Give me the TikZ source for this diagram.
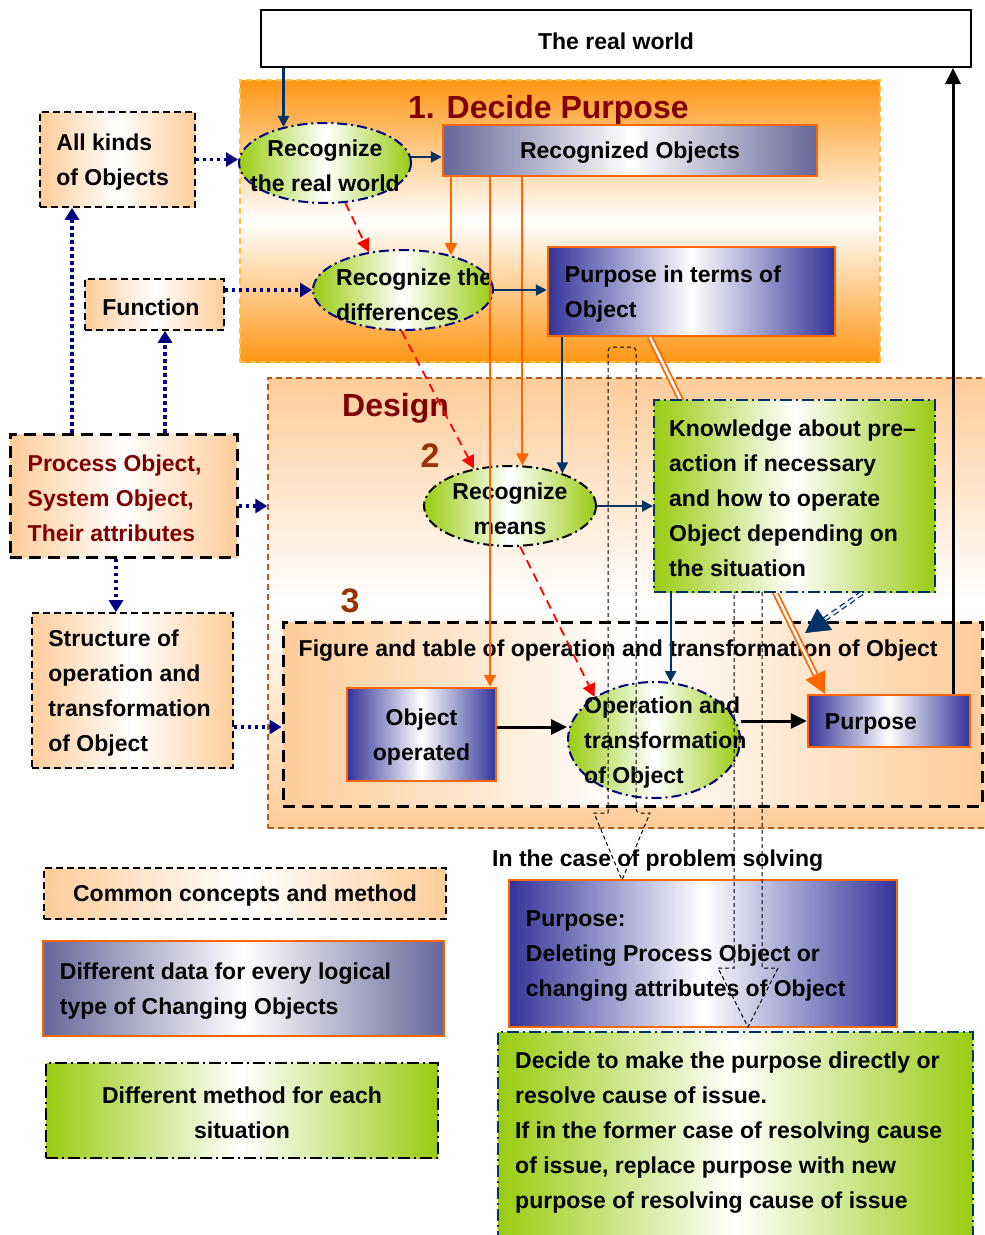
\documentclass[tikz,border=0pt]{standalone}
\usepackage{fontspec}
\setmainfont{Liberation Sans}
\usetikzlibrary{arrows.meta,calc,shapes.geometric}

\definecolor{peach}{RGB}{255,204,153}
\definecolor{deeporange}{RGB}{255,150,20}
\definecolor{lineorange}{RGB}{255,102,0}
\definecolor{slate}{RGB}{102,102,153}
\definecolor{navyfill}{RGB}{51,51,153}
\definecolor{leaf}{RGB}{153,204,17}
\definecolor{darkred}{RGB}{128,0,0}
\definecolor{rust}{RGB}{153,51,0}
\definecolor{navyline}{RGB}{0,51,102}
\definecolor{navydot}{RGB}{0,0,128}
\definecolor{brownborder}{RGB}{176,90,30}
\definecolor{goldborder}{RGB}{255,192,64}

\begin{document}
\begin{tikzpicture}[x=1pt,y=-1pt,
  txt/.style={font=\bfseries\fontsize{23}{35}\selectfont, inner sep=0pt, align=left, yshift=-2.5pt},
  ctxt/.style={txt, align=center},
  heading/.style={font=\bfseries\fontsize{32}{36}\selectfont, text=darkred, inner sep=0pt},
  stagenum/.style={font=\bfseries\fontsize{34}{36}\selectfont, text=rust, inner sep=0pt},
  rect/.style={rectangle, inner sep=0pt},
  region/.style={rect, line width=1.4pt, dash pattern=on 6pt off 4pt},
  commonbox/.style={rect, draw=black, line width=1.6pt, dash pattern=on 7pt off 4pt,
    left color=peach, right color=peach, middle color=white},
  commonheavy/.style={commonbox, line width=3pt, dash pattern=on 12pt off 7pt},
  databox/.style={rect, draw=lineorange, line width=2.5pt,
    left color=slate, right color=slate, middle color=white},
  objectbox/.style={rect, draw=lineorange, line width=2.5pt,
    left color=navyfill, right color=navyfill, middle color=white},
  methodbox/.style={rect, draw=navyline, line width=2pt, dash pattern=on 12pt off 4pt on 2pt off 4pt,
    left color=leaf, right color=leaf, middle color=white},
  methodoval/.style={ellipse, inner sep=0pt, draw=navydot, line width=2pt,
    dash pattern=on 10pt off 4pt on 2pt off 4pt,
    left color=leaf, right color=leaf, middle color=white,
    minimum width=172pt, minimum height=80pt},
  flow/.style={draw=navyline, line width=2pt, -{Triangle[length=11pt,width=11pt]}},
  feed/.style={draw=navydot, line width=3.5pt, dash pattern=on 3.5pt off 3.5pt,
    -{Triangle[length=12pt,width=14pt]}},
  cue/.style={draw=red, line width=1.8pt, dash pattern=on 9pt off 6pt,
    -{Triangle[length=13pt,width=13pt]}},
  supply/.style={draw=lineorange, line width=2pt, -{Triangle[length=12pt,width=12pt]}},
  result/.style={draw=black, line width=3pt, -{Triangle[length=16pt,width=15pt]}},
  callout/.style={draw=black, line width=1pt, dash pattern=on 4pt off 3pt}
]
\useasboundingbox (0,0) rectangle (985,1235);

% ---- stage regions ----
\node[region, draw=goldborder, top color=deeporange, bottom color=deeporange, middle color=white,
      minimum width=640pt, minimum height=282pt] (decide) at (560,221) {};
\node[region, draw=brownborder, top color=peach, bottom color=peach, middle color=white,
      minimum width=722pt, minimum height=450pt] (design) at (629,603) {};
\node[heading, anchor=west] (decide-title) at (408,110) {1. Decide Purpose};
\node[heading, anchor=west] (design-title) at (342,408) {Design};
\node[stagenum] (stage2) at (430,456) {2};
\node[stagenum] (stage3) at (350,601) {3};

% ---- the real world ----
\node[rect, draw=black, line width=2pt, fill=white, minimum width=710pt, minimum height=57pt]
      (world) at (616,38.5) {};
\node[txt] (world-t) at (world) {The real world};

% ---- common concepts on the left ----
\node[commonbox, minimum width=155pt, minimum height=95pt] (kinds) at (117.5,159.5) {};
\node[txt, anchor=west] (kinds-t) at ([xshift=17pt]kinds.west) {All kinds\\of Objects};
\node[commonbox, minimum width=139pt, minimum height=51pt] (func) at (154.5,304.5) {};
\node[txt, anchor=west] (func-t) at ([xshift=18pt]func.west) {Function};
\node[commonheavy, minimum width=227pt, minimum height=123pt] (proc) at (123.5,495.5) {};
\node[txt, text=darkred, anchor=west] (proc-t) at ([xshift=19pt]proc.west)
      {Process Object,\\System Object,\\Their attributes};
\node[commonbox, minimum width=201pt, minimum height=155pt] (struct) at (132.5,690.5) {};
\node[txt, anchor=west] (struct-t) at ([xshift=17pt]struct.west)
      {Structure of\\operation and\\transformation\\of Object};

% ---- figure and table group ----
\node[commonheavy, minimum width=699pt, minimum height=184pt] (figure) at (632.5,714) {};
\node[txt, anchor=west] (figure-t) at ([xshift=17pt,yshift=-28pt]figure.north west)
      {Figure and table of operation and transformation of Object};

% ---- purpose boxes ----
\node[objectbox, minimum width=287pt, minimum height=89pt] (pterms) at (691.5,291.5) {};
\node[txt, anchor=west] (pterms-t) at ([xshift=18pt]pterms.west) {Purpose in terms of\\Object};
\node[objectbox, minimum width=162pt, minimum height=52pt] (purpose) at (889,721) {};
\node[txt, anchor=west] (purpose-t) at ([xshift=18pt]purpose.west) {Purpose};

% double orange link running behind the knowledge box
\coordinate (x-650) at (650,0);
\coordinate (pterms-out) at (pterms.south -| x-650);
\coordinate (purpose-in) at ([xshift=18pt]purpose.north west);
\draw[lineorange, line width=1.8pt, double=white, double distance=2.6pt]
      (pterms-out) -- ($(purpose-in)!18pt!(pterms-out)$);
\draw[lineorange, line width=1pt, -{Triangle[length=21pt,width=22pt]}]
      ($(purpose-in)!22pt!(pterms-out)$) -- (purpose-in);

% ---- method nodes ----
\node[methodbox, minimum width=281pt, minimum height=192pt] (know) at (794.5,496) {};
\node[txt, anchor=west] (know-t) at ([xshift=16pt]know.west)
      {Knowledge about pre--\\action if necessary\\and how to operate\\Object depending on\\the situation};

\node[methodoval] (seeworld) at (325,163) {};
\node[ctxt] (seeworld-t) at (seeworld) {Recognize\\the real world};
\node[databox, minimum width=374pt, minimum height=51pt] (objs) at (630,150.5) {};
\node[txt] (objs-t) at (objs) {Recognized Objects};
\node[methodoval, minimum width=180pt] (diff) at (403,290) {};
\node[txt, anchor=west] (diff-t) at (336,292) {Recognize the\\differences};
\node[methodoval, draw=black] (means) at (510,506) {};
\node[ctxt] (means-t) at (means) {Recognize\\means};
\node[objectbox, minimum width=149pt, minimum height=93pt] (operated) at (421.5,734.5) {};
\node[ctxt] (operated-t) at (operated) {Object\\operated};
\node[methodoval, minimum height=116pt] (transform) at (654,740) {};
\node[txt, anchor=west] (transform-t) at (584,740) {Operation and\\transformation\\of Object};

% ---- problem solving case ----
\node[txt, anchor=west] (case) at (492,858) {In the case of problem solving};
\node[objectbox, minimum width=388pt, minimum height=147pt] (delete) at (703,953.5) {};
\node[txt, anchor=west] (delete-t) at ([xshift=18pt]delete.west)
      {Purpose:\\Deleting Process Object or\\changing attributes of Object};
\node[methodbox, minimum width=475pt, minimum height=215pt] (choose) at (735.5,1139.5) {};
\node[txt, anchor=west] (choose-t) at (515,1130)
      {Decide to make the purpose directly or\\resolve cause of issue.\\If in the former case of resolving cause\\of issue, replace purpose with new\\purpose of resolving cause of issue};

% ---- legend ----
\node[commonbox, minimum width=402pt, minimum height=51pt] (key-common) at (245,893.5) {};
\node[txt] (key-common-t) at (key-common) {Common concepts and method};
\node[databox, minimum width=401pt, minimum height=95pt] (key-data) at (243.5,988.5) {};
\node[txt, anchor=west] (key-data-t) at ([xshift=18pt]key-data.west)
      {Different data for every logical\\type of Changing Objects};
\node[methodbox, draw=black, minimum width=392pt, minimum height=95pt] (key-method) at (242,1110.5) {};
\node[ctxt] (key-method-t) at (key-method) {Different method for each\\situation};

% ---- connectors ----
\coordinate (x-72) at (72,0);
\coordinate (x-116) at (116,0);
\coordinate (x-165) at (165,0);
\coordinate (x-490) at (490,0);
\coordinate (x-862) at (862,0);
\coordinate (x-953) at (953,0);
\coordinate (y-506) at (0,506);
\coordinate (y-727) at (0,727);

\draw[flow, line width=2.5pt] (world.south -| seeworld.139) -- (seeworld.139);
\draw[feed] (kinds.east) -- (kinds.east -| seeworld.west);
\draw[flow] (seeworld.4) -- (seeworld.4 -| objs.west);
\draw[cue] (seeworld.-63) -- (diff.132);
\draw[supply] (objs.south -| diff.36) -- (diff.36);
\draw[supply] (objs.south -| x-490) -- (operated.north -| x-490);
\draw[supply] (objs.south -| means.73) -- (means.73);
\draw[feed] (func.east |- diff.west) -- (diff.west);
\draw[flow] (diff.east) -- (diff.east -| pterms.west);
\draw[cue] (diff.-92) -- (means.134);
\draw[flow] (pterms.south -| means.32) -- (means.32);
\draw[flow] (means.east) -- (means.east -| know.west);
\draw[cue] (means.-76) -- (transform.144);
\draw[flow] (know.south -| transform.74) -- (transform.74);

\draw[feed] (proc.north -| x-72) -- (kinds.south -| x-72);
\draw[feed] (proc.north -| x-165) -- (func.south -| x-165);
\draw[feed] (proc.east |- y-506) -- (design.west |- y-506);
\draw[feed] (proc.south -| x-116) -- (struct.north -| x-116);
\draw[feed] (struct.east |- y-727) -- (figure.west |- y-727);

\draw[result] (operated.east |- y-727) -- (transform.west |- y-727);
\draw[result] (transform.east |- purpose.west) -- (purpose.west);
\draw[result] (purpose.north -| x-953) -- (world.south -| x-953);

% knowledge feeds the figure and table
\coordinate (know-out) at (know.south -| x-862);
\coordinate (figure-in) at (805,633);
\draw[navyline, line width=1.3pt, double=white, double distance=2.2pt, dash pattern=on 6pt off 4pt]
      (know-out) -- ($(figure-in)!20pt!(know-out)$);
\draw[navyline, line width=0.5pt, -{Triangle[length=24pt,width=26pt]}]
      ($(figure-in)!25pt!(know-out)$) -- (figure-in);

% ---- dashed block arrows ----
\draw[callout] (608,813) [rounded corners=4pt] -- (608,347) -- (636,347) -- (636,813)
      [sharp corners] -- (650,813) -- (622,880) -- (594,813) -- cycle;
\draw[callout] (718,968) -- (734,968) -- (734,592) -- (762,592) -- (762,968)
      -- (778,968) -- (748,1027) -- cycle;
\end{tikzpicture}
\end{document}
